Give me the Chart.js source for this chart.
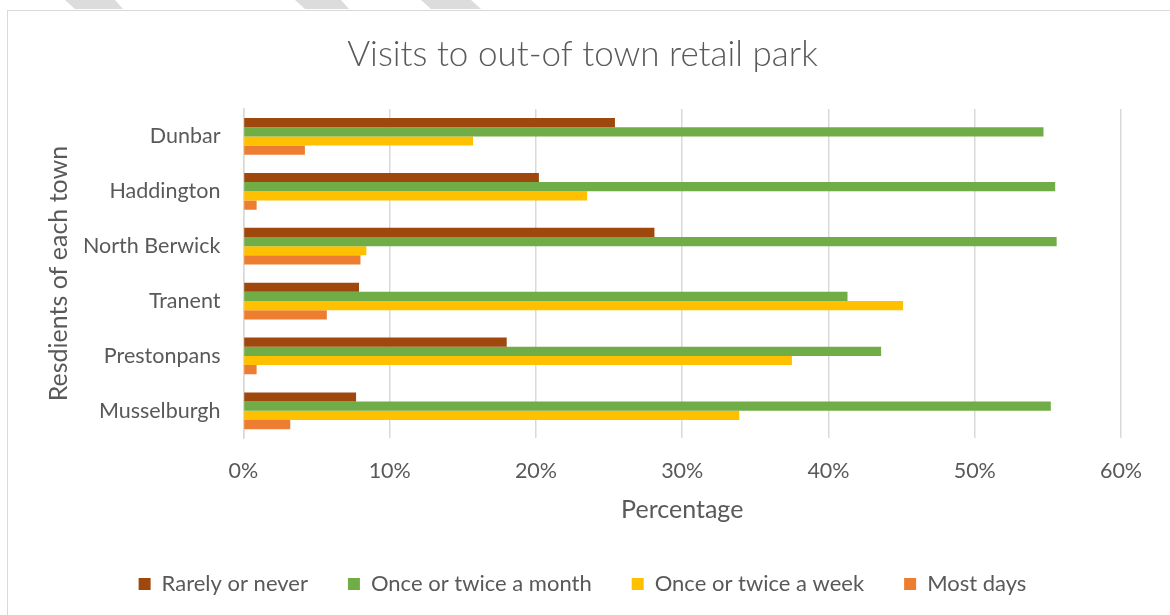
<!DOCTYPE html>
<html>
<head>
<meta charset="utf-8">
<script src="https://cdn.jsdelivr.net/npm/chart.js@4.4.0/dist/chart.umd.min.js"></script>
<style>
  html, body { margin: 0; padding: 0; background: #fff; }
  #wrap { position: relative; width: 1170px; height: 615px; overflow: hidden; }
  #frame { position: absolute; left: 7px; top: 10px; width: 1180px; height: 620px; border: 1.5px solid #d9d9d9; box-sizing: border-box; }
  .stripe { position: absolute; top: 0; height: 9px; background: #dcdcdc; }
  canvas { position: absolute; left: 0; top: 0; }
</style>
</head>
<body>
<div id="wrap">
  <div class="stripe" style="left:65px;width:58px;clip-path:polygon(0 0,50px 0,58px 100%,10px 100%)"></div>
  <div class="stripe" style="left:295px;width:54px;clip-path:polygon(0 0,46px 0,54px 100%,10px 100%)"></div>
  <div class="stripe" style="left:421px;width:60px;clip-path:polygon(0 0,50px 0,60px 100%,10px 100%)"></div>
  <div id="frame"></div>
  <canvas id="myChart" width="1170" height="615"></canvas>
</div>
<script>
let towns = ['Dunbar', 'Haddington', 'North Berwick', 'Tranent', 'Prestonpans', 'Musselburgh'];
let rarely = [25.4, 20.2, 28.1, 7.9, 18.0, 7.7];
let monthly = [54.7, 55.5, 55.6, 41.3, 43.6, 55.2];
let weekly = [15.7, 23.5, 8.4, 45.1, 37.5, 33.9];
let mostDays = [4.2, 0.9, 8.0, 5.7, 0.9, 3.2];
let seriesNames = ['Rarely or never', 'Once or twice a month', 'Once or twice a week', 'Most days'];
let colors = ['#9E480E', '#70AD47', '#FFC000', '#ED7D31'];

let txt = '#595959';
let fam = 'Lato, "Open Sans", sans-serif';

let ctx = document.getElementById('myChart').getContext('2d');
let chart = new Chart(ctx, {
    type: 'bar',
    data: {
        labels: towns,
        datasets: [rarely, monthly, weekly, mostDays].map((d, i) => ({
            label: seriesNames[i],
            data: d,
            backgroundColor: colors[i],
            categoryPercentage: 0.67,
            barPercentage: 1.0
        }))
    },
    options: {
        indexAxis: 'y',
        responsive: false,
        animation: false,
        layout: { padding: { top: 34, left: 44, right: 49, bottom: 10 } },
        plugins: {
            title: {
                display: true,
                text: 'Visits to out-of town retail park',
                color: txt,
                font: { family: fam, size: 35, weight: '300' },
                padding: { top: 0, bottom: 33 }
            },
            legend: {
                position: 'bottom',
                labels: {
                    color: txt,
                    font: { family: fam, size: 22 },
                    boxWidth: 12,
                    boxHeight: 12,
                    padding: 40
                }
            },
            tooltip: { enabled: false }
        },
        scales: {
            x: {
                min: 0,
                max: 60,
                ticks: {
                    stepSize: 10,
                    color: txt,
                    font: { family: fam, size: 21.5 },
                    padding: 20,
                    callback: v => v + '%'
                },
                grid: { color: '#d9d9d9', lineWidth: 1.5, drawTicks: false },
                border: { display: false },
                title: {
                    display: true,
                    text: 'Percentage',
                    color: txt,
                    font: { family: fam, size: 25 },
                    padding: { top: -9, bottom: 8 }
                }
            },
            y: {
                ticks: {
                    color: txt,
                    font: { family: fam, size: 21.5 },
                    padding: 23
                },
                grid: { display: false, drawTicks: false },
                border: { display: true, color: '#d9d9d9', width: 1.5 },
                title: {
                    display: true,
                    text: 'Resdients of each town',
                    color: txt,
                    font: { family: fam, size: 25 },
                    padding: { top: 0, bottom: -14 }
                }
            }
        }
    }
});
</script>
</body>
</html>
